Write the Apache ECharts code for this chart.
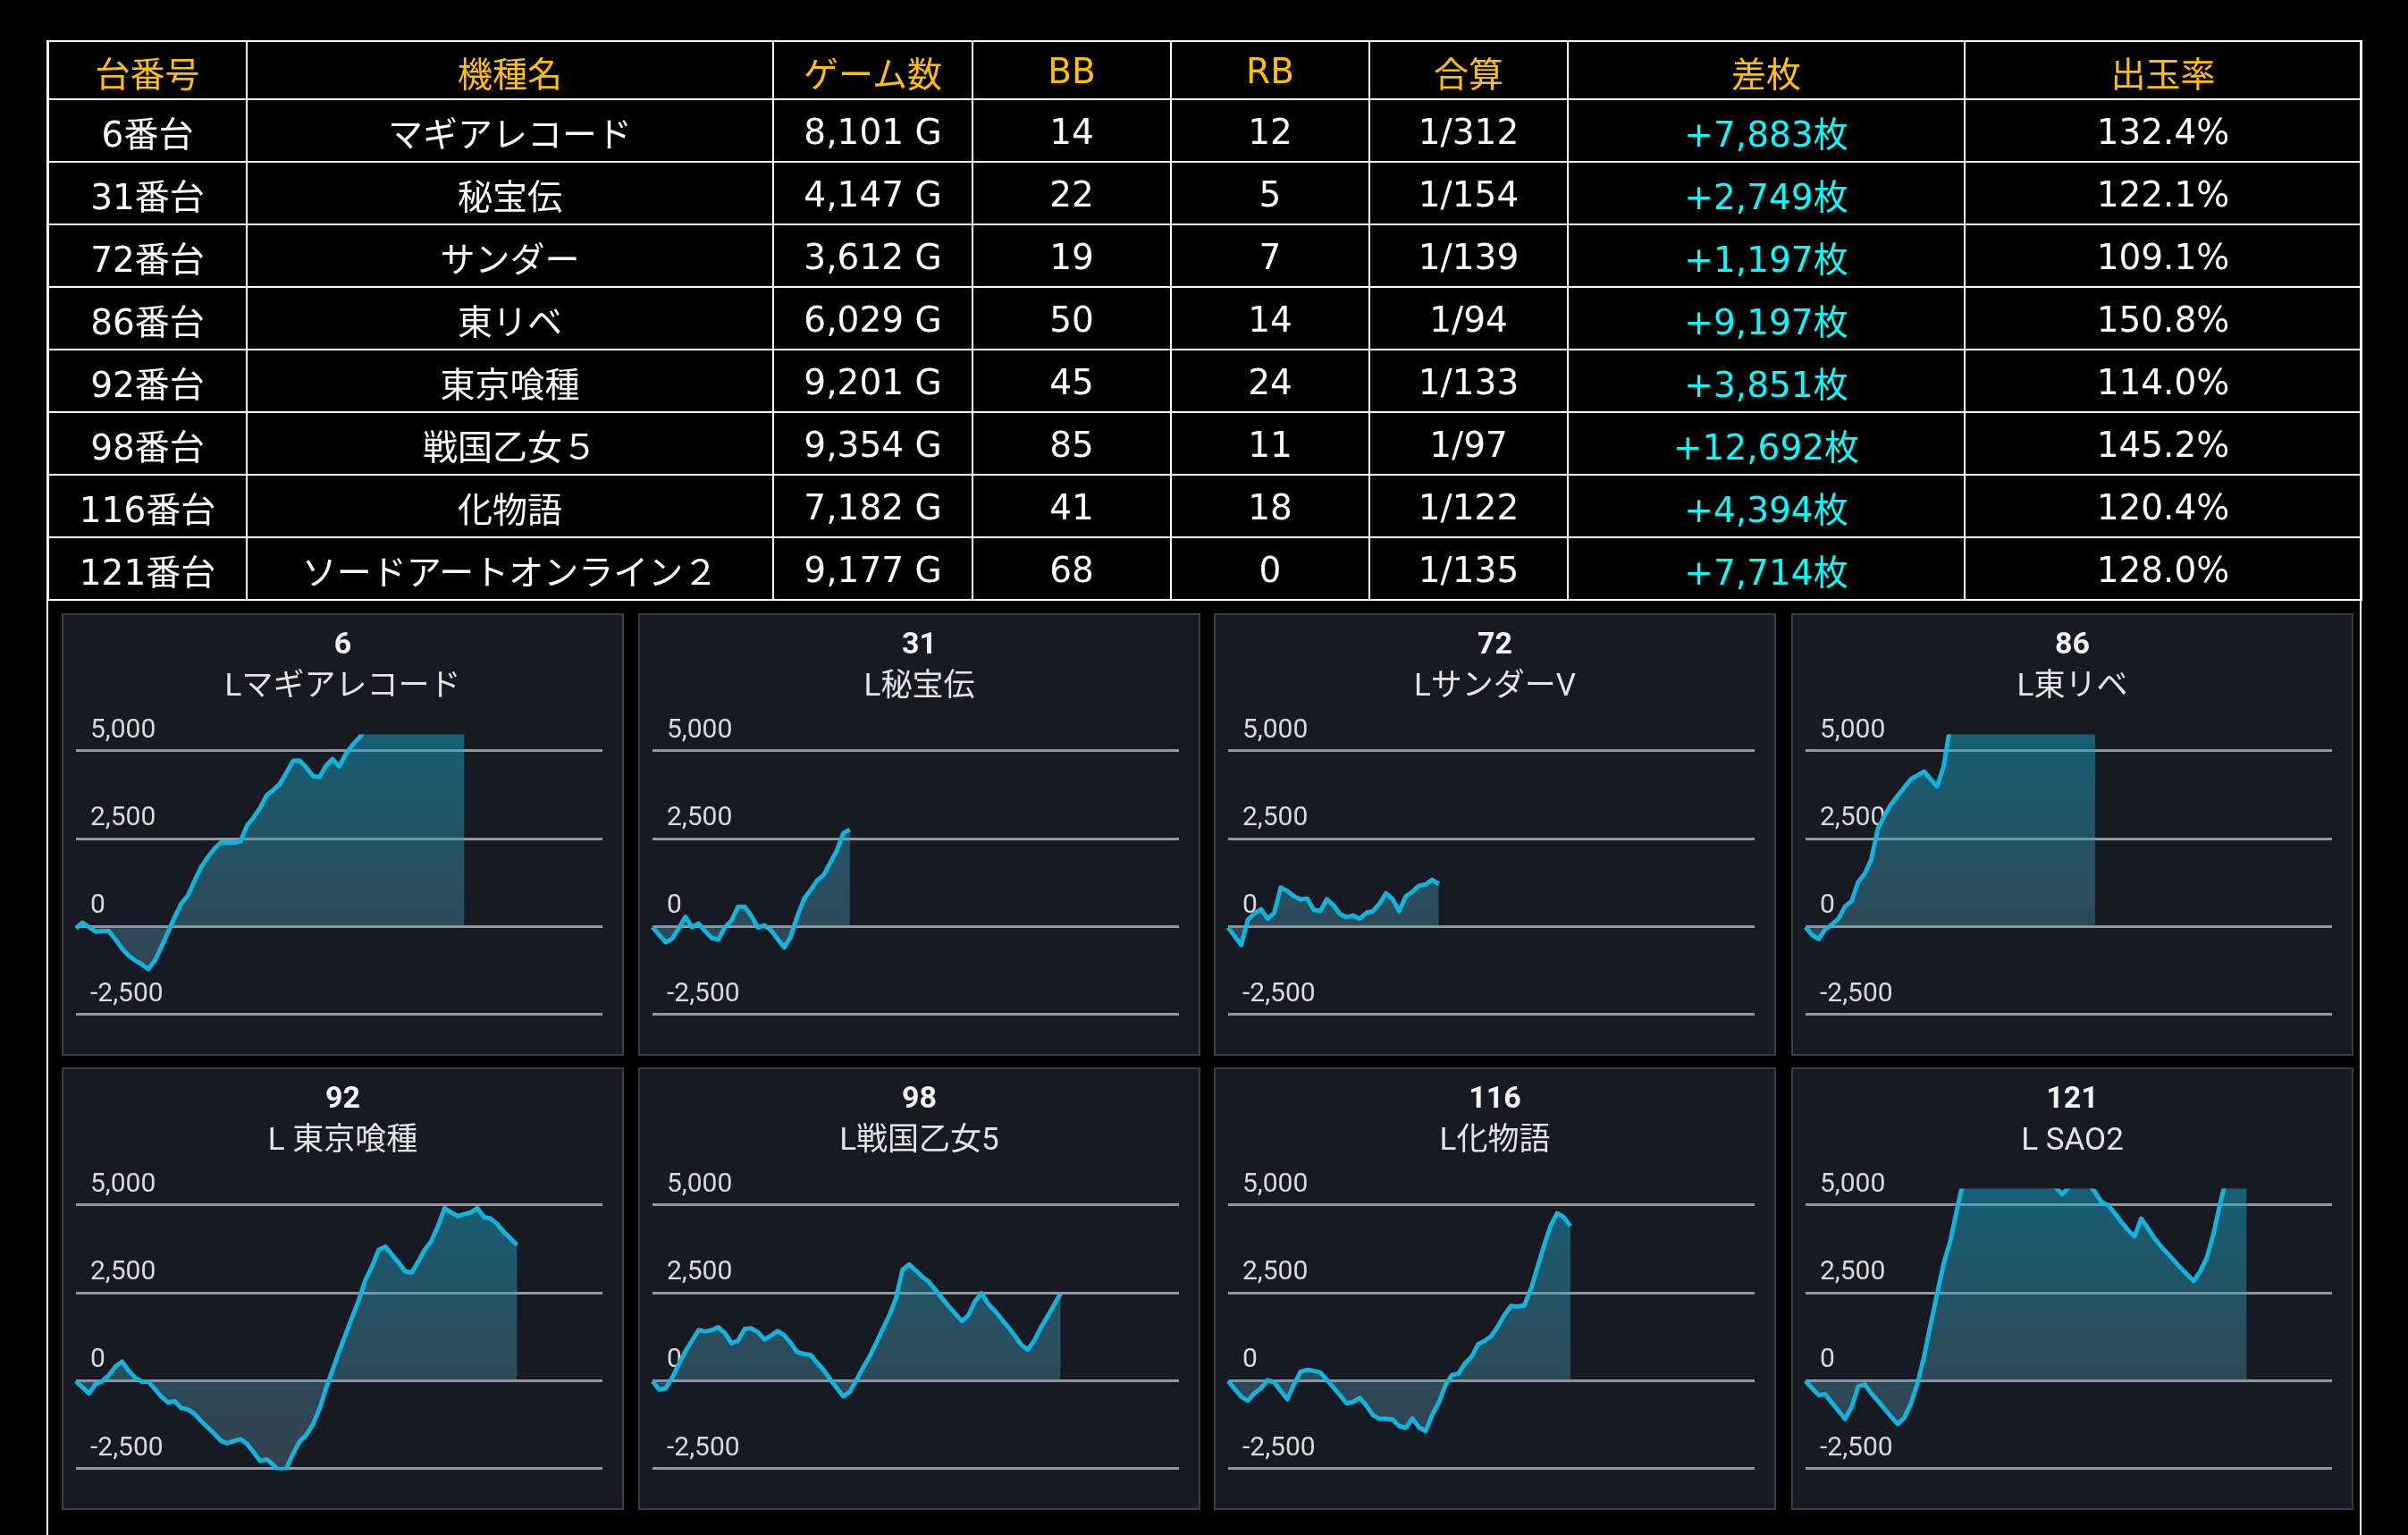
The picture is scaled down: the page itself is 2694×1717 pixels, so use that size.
<!DOCTYPE html>
<html>
<head>
<meta charset="utf-8">
<script src="https://cdn.jsdelivr.net/npm/echarts@6/dist/echarts.min.js"></script>
<style>
html,body{margin:0;padding:0;background:#000;width:2694px;height:1717px;overflow:hidden;}
#chart{position:absolute;left:0;top:0;width:2694px;height:1717px;}
#frame{position:absolute;left:52px;top:45px;width:2590px;height:1700px;border-left:2px solid #fff;border-right:2px solid #fff;box-sizing:border-box;}
#tbl{position:absolute;left:53px;top:45px;border-collapse:collapse;table-layout:fixed;width:2588px;
  font-family:"DejaVu Sans","Noto Sans CJK JP",sans-serif;font-size:39px;color:#fff;}
#tbl td,#tbl th{border:2px solid #fff;text-align:center;vertical-align:middle;padding:2px 0 0 0;font-weight:normal;white-space:nowrap;}
#tbl th{color:#FFC000;}
#tbl tr.h{height:65px;}
#tbl tr.r{height:70px;}
#tbl td.diff{color:#00FFFF;}
</style>
</head>
<body>
<div id="chart"></div>
<div id="frame"></div>
<table id="tbl"></table>
<script>
// ---------- table data ----------
const HEADERS = ['台番号','機種名','ゲーム数','BB','RB','合算','差枚','出玉率'];
const MACHINE_NO = [6, 31, 72, 86, 92, 98, 116, 121];
const MACHINE_NAME = ['マギアレコード','秘宝伝','サンダー','東リベ','東京喰種','戦国乙女５','化物語','ソードアートオンライン２'];
const GAMES = [8101, 4147, 3612, 6029, 9201, 9354, 7182, 9177];
const BB = [14, 22, 19, 50, 45, 85, 41, 68];
const RB = [12, 5, 7, 14, 24, 11, 18, 0];
const COMBINED = ['1/312','1/154','1/139','1/94','1/133','1/97','1/122','1/135'];
const DIFF = [7883, 2749, 1197, 9197, 3851, 12692, 4394, 7714];
const RATE = ['132.4%','122.1%','109.1%','150.8%','114.0%','145.2%','120.4%','128.0%'];

// ---------- chart data ----------
const CHART_TITLES = ['Lマギアレコード','L秘宝伝','LサンダーV','L東リベ','L 東京喰種','L戦国乙女5','L化物語','L SAO2'];
const Y_TICKS = [-2500, 0, 2500, 5000];
const X_SLOTS = ['0','1','2','3','4','5','6','7','8','9','10','11','12','13','14','15','16','17','18','19','20',
  '21','22','23','24','25','26','27','28','29','30','31','32','33','34','35','36','37','38','39','40',
  '41','42','43','44','45','46','47','48','49','50','51','52','53','54','55','56','57','58','59','60',
  '61','62','63','64','65','66','67','68','69','70','71','72','73','74','75','76','77','78','79','80'];

const SLUMP_6 = [-60,100,-35,-160,-145,-145,-380,-640,-840,-980,-1090,-1225,-980,-590,-160,255,640,870,1285,1675,1955,2200,2380,2380,2380,2420,2870,3100,3375,3730,3880,4060,4380,4710,4720,4520,4280,4250,4575,4760,4550,4905,5160,5365,5600,5800,6050,5950,6250,6500,6400,6750,6900,7100,7000,7300,7550,7450,7700,7883];
const SLUMP_31 = [-25,-250,-460,-355,-60,265,-25,75,-145,-340,-390,-35,160,550,550,300,-40,20,-120,-365,-610,-305,280,760,1020,1300,1455,1800,2150,2650,2749];
const SLUMP_72 = [-40,-290,-535,180,365,480,210,375,1100,1000,850,765,790,470,425,765,595,340,255,300,210,380,425,640,935,765,425,850,980,1150,1190,1320,1197];
const SLUMP_86 = [-25,-255,-365,-95,50,210,560,715,1260,1495,1905,2780,3150,3470,3715,3955,4190,4295,4410,4185,3980,4565,5700,5900,6200,6100,6400,6600,6800,6700,7000,7200,7400,7300,7600,7800,8000,7900,8200,8400,8600,8500,8800,9000,9197];
const SLUMP_92 = [-25,-205,-375,-110,-25,145,390,535,270,75,-40,-40,-255,-470,-640,-595,-790,-835,-955,-1160,-1340,-1520,-1720,-1800,-1730,-1680,-1815,-2055,-2300,-2255,-2420,-2600,-2500,-2085,-1745,-1560,-1260,-815,-230,300,825,1320,1815,2300,2870,3250,3720,3810,3590,3360,3105,3070,3380,3720,3965,4385,4910,4785,4680,4735,4785,4905,4650,4615,4455,4230,4050,3851];
const SLUMP_98 = [-25,-265,-230,75,460,825,1130,1430,1390,1430,1510,1345,1055,1130,1465,1480,1370,1165,1270,1405,1285,1065,800,750,725,500,290,25,-220,-460,-325,10,365,680,1065,1465,1850,2340,3150,3300,3130,2945,2805,2570,2340,2110,1900,1690,1850,2250,2480,2175,1980,1750,1525,1285,1015,870,1120,1495,1815,2140,2470];
const SLUMP_116 = [-25,-250,-470,-580,-375,-225,0,-60,-305,-545,-120,240,300,270,220,10,-205,-425,-660,-620,-500,-720,-995,-1100,-1100,-1115,-1310,-1355,-1090,-1340,-1450,-995,-640,-145,145,190,485,670,1030,1125,1260,1540,1865,2120,2100,2130,2600,3215,3835,4405,4760,4650,4394];
const SLUMP_121 = [-25,-230,-425,-400,-640,-870,-1105,-765,-180,-120,-375,-595,-815,-1040,-1250,-1070,-670,-95,670,1590,2465,3335,3965,4855,5700,6000,6300,6500,6400,6700,6900,6800,6600,6400,6200,6000,5900,5700,5500,5300,5500,5700,5800,5600,5360,5075,4990,4760,4510,4280,4100,4605,4335,4050,3820,3615,3410,3200,3010,2830,3115,3505,4185,5040,5800,6500,7100,7714];

const SLUMPS = [SLUMP_6, SLUMP_31, SLUMP_72, SLUMP_86, SLUMP_92, SLUMP_98, SLUMP_116, SLUMP_121];

// ---------- table ----------
const COL_W = [222, 589, 223, 222, 222, 222, 444, 444];
const fmt = v => v.toLocaleString('en-US');
let html = '<colgroup>' + COL_W.map(w => '<col style="width:' + w + 'px">').join('') + '</colgroup>';
html += '<tr class="h">' + HEADERS.map(h => '<th>' + h + '</th>').join('') + '</tr>';
for (let i = 0; i < MACHINE_NO.length; i++) {
  html += '<tr class="r">' +
    '<td>' + MACHINE_NO[i] + '番台</td>' +
    '<td>' + MACHINE_NAME[i] + '</td>' +
    '<td>' + fmt(GAMES[i]) + ' G</td>' +
    '<td>' + BB[i] + '</td>' +
    '<td>' + RB[i] + '</td>' +
    '<td>' + COMBINED[i] + '</td>' +
    '<td class="diff">+' + fmt(DIFF[i]) + '枚</td>' +
    '<td>' + RATE[i] + '</td></tr>';
}
document.getElementById('tbl').innerHTML = html;

// ---------- charts ----------
const PANEL_X = [70, 715, 1359, 2005];
const PANEL_Y = [687, 1195];
const PANEL_W = 627, PANEL_H = 493;
const GRID_L = 15, GRID_W = 589, GRID_T = 137, GRID_H = 310;

const chart = echarts.init(document.getElementById('chart'), null, {renderer: 'canvas'});
const option = {
  animation: false,
  backgroundColor: 'transparent',
  title: [], grid: [], xAxis: [], yAxis: [], series: [], graphic: []
};

SLUMPS.forEach((data, i) => {
  const col = i % 4, row = Math.floor(i / 4);
  const px = PANEL_X[col], py = PANEL_Y[row];
  const gTop = py + GRID_T;
  option.graphic.push({
    type: 'rect', z: -10, silent: true,
    shape: {x: px, y: py, width: PANEL_W, height: PANEL_H},
    style: {fill: '#171a23', stroke: '#3a3d45', lineWidth: 2}
  });
  option.title.push({
    text: String(MACHINE_NO[i]),
    subtext: CHART_TITLES[i],
    left: px + PANEL_W / 2, top: py + 18,
    textAlign: 'center', padding: 0, itemGap: 12,
    textStyle: {color: '#f2f2f2', fontSize: 34, fontWeight: 'bold', fontFamily: 'Roboto', lineHeight: 34},
    subtextStyle: {color: '#e4e4e4', fontSize: 35, fontFamily: 'Roboto, "Noto Sans CJK JP"', lineHeight: 36}
  });
  option.grid.push({left: px + GRID_L, top: gTop, width: GRID_W, height: GRID_H, containLabel: false});
  option.xAxis.push({
    gridIndex: i, type: 'category', data: X_SLOTS, boundaryGap: false, show: false
  });
  option.yAxis.push({
    gridIndex: i, type: 'value', min: -2500, max: 5400, interval: 2500,
    axisLine: {show: false}, axisTick: {show: false},
    splitLine: {show: true, showMinLine: true, showMaxLine: false, lineStyle: {color: '#93969d', width: 3}},
    axisLabel: {
      inside: true, margin: 16, align: 'left', verticalAlign: 'bottom', padding: [0, 0, 7, 0],
      color: '#dadada', fontSize: 30, fontFamily: 'Roboto',
      showMaxLabel: false,
      formatter: v => Y_TICKS.indexOf(v) >= 0 ? fmt(v) : ''
    }
  });
  option.series.push({
    type: 'line', xAxisIndex: i, yAxisIndex: i, data: data,
    symbol: 'none', showSymbol: false, clip: true, silent: true,
    lineStyle: {color: '#10b4dc', width: 5, join: 'round'},
    areaStyle: {
      opacity: 1,
      color: new echarts.graphic.LinearGradient(0, gTop, 0, gTop + GRID_H, [
        {offset: 0, color: 'rgba(20,170,205,0.48)'},
        {offset: 1, color: 'rgba(110,145,165,0.33)'}
      ], true)
    }
  });
});

chart.setOption(option);
</script>
</body>
</html>
